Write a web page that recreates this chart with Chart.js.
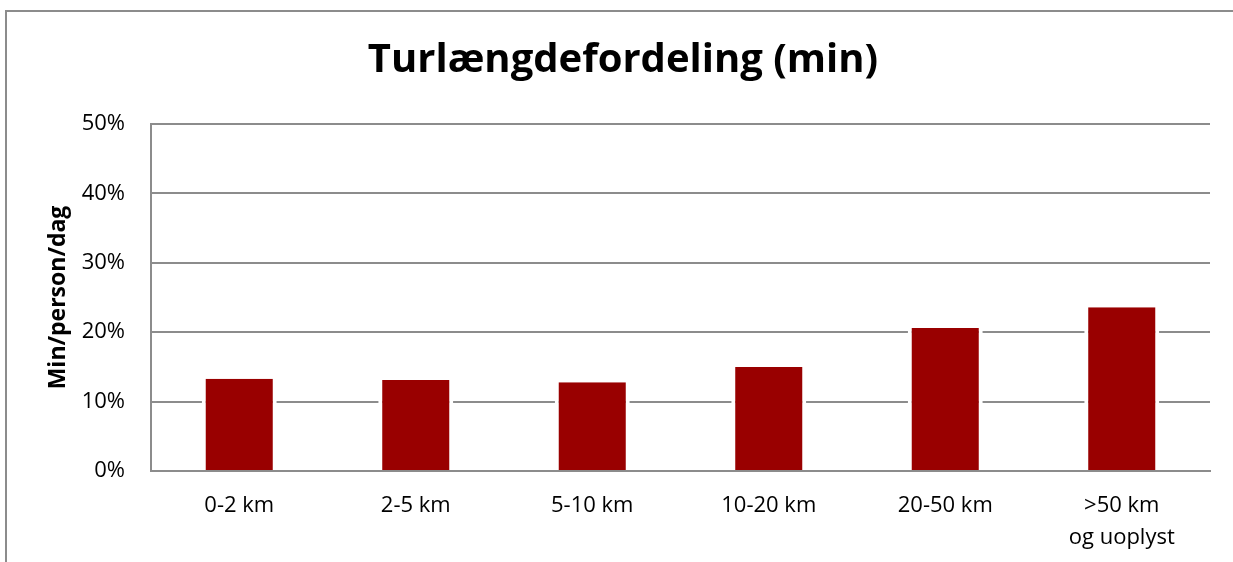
<!DOCTYPE html>
<html>
<head>
<meta charset="utf-8">
<script src="https://cdn.jsdelivr.net/npm/chart.js@4"></script>
<style>
  html, body { margin: 0; padding: 0; background: #fff; overflow: hidden; }
  #frame {
    position: absolute; left: 5px; top: 10px;
    width: 1300px; height: 600px;
    border: 2px solid #8c8c8c;
  }
  #wrap { position: absolute; left: 0; top: 0; width: 1233px; height: 562px; }
</style>
</head>
<body>
<div id="frame"></div>
<div id="wrap"><canvas id="turChart"></canvas></div>
<script>
const categories = ['0-2 km', '2-5 km', '5-10 km', '10-20 km', '20-50 km', ['>50 km', 'og uoplyst']];
const minShare = [13.3, 13.1, 12.8, 15.0, 20.6, 23.6];
const yTicks = [0, 10, 20, 30, 40, 50];

const FONT = "'Open Sans', sans-serif";
const GRID = '#8c8c8c';

const ctx = document.getElementById('turChart').getContext('2d');

new Chart(ctx, {
    type: 'bar',
    data: {
        labels: categories,
        datasets: [
            {
                label: 'Min/person/dag',
                data: minShare,
                backgroundColor: '#990000',
                borderColor: '#ffffff',
                // white sides only, so the grid lines stop short of the bars
                borderWidth: { left: 4, right: 4, top: 0, bottom: 0 },
                borderSkipped: false,
                barPercentage: 0.425,
                categoryPercentage: 1
            }
        ]
    },
    options: {
        responsive: true,
        maintainAspectRatio: false,
        animation: false,
        layout: {
            padding: { left: 36, right: 23, top: 0, bottom: 0 }
        },
        plugins: {
            legend: { display: false },
            tooltip: { enabled: false },
            title: {
                display: true,
                text: 'Turlængdefordeling (min)',
                color: '#000',
                font: { family: FONT, size: 40, weight: 'bold', lineHeight: 1.2 },
                padding: { top: 37, bottom: 39 }
            }
        },
        scales: {
            x: {
                grid: { display: false, drawTicks: false },
                border: { display: true, color: GRID, width: 2 },
                ticks: {
                    color: '#000',
                    padding: 19,
                    maxRotation: 0,
                    autoSkip: false,
                    font: { family: FONT, size: 22, lineHeight: 1.45 }
                },
                afterFit: function (scale) { scale.height = 91; }
            },
            y: {
                min: 0,
                max: 50,
                afterBuildTicks: function (scale) {
                    scale.ticks = yTicks.map(v => ({ value: v }));
                },
                grid: { color: GRID, lineWidth: 2, drawTicks: false },
                border: { display: true, color: GRID, width: 2 },
                ticks: {
                    color: '#000',
                    padding: 26,
                    font: { family: FONT, size: 22 },
                    callback: v => v + '%'
                },
                title: {
                    display: true,
                    text: 'Min/person/dag',
                    color: '#000',
                    font: { family: FONT, size: 23, weight: 'bold', lineHeight: 1.2 },
                    padding: { top: 9, bottom: 0 }
                },
                afterFit: function (scale) { scale.width = 115; }
            }
        }
    }
});
</script>
</body>
</html>
